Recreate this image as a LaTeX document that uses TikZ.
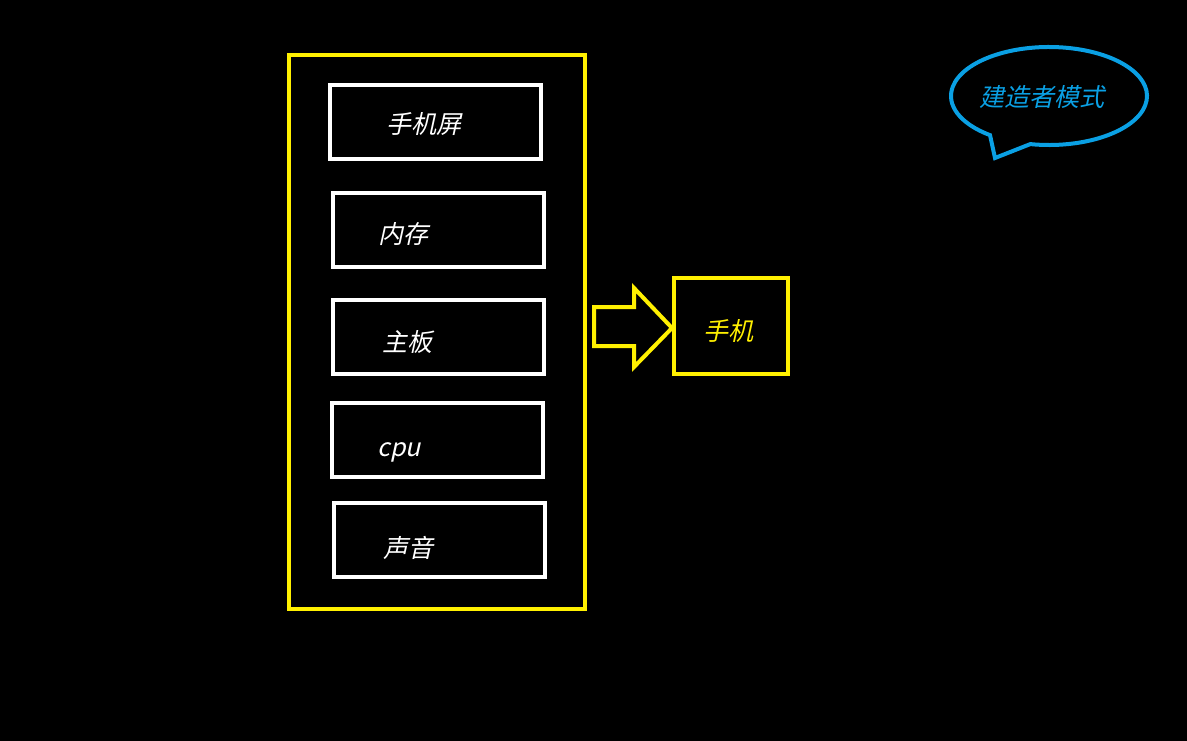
\documentclass[tikz,border=0pt]{standalone}
\usepackage{fontspec}
\usetikzlibrary{calc}
\newfontfamily\cjk[FakeSlant=0.22]{Noto Sans CJK SC}
\definecolor{yel}{RGB}{255,240,0}
\definecolor{sky}{RGB}{10,160,228}
\begin{document}
\begin{tikzpicture}[x=1pt,y=1pt,
  part/.style={draw=white,line width=4pt,minimum width=211pt,minimum height=74pt,inner sep=0pt},
  ptext/.style={text=white,font=\cjk\fontsize{25}{27}\selectfont,inner sep=0pt},
  ybox/.style={draw=yel,line width=4pt,inner sep=0pt}]
\fill[black] (0,0) rectangle (1187,-741);
\useasboundingbox (0,0) rectangle (1187,-741);
% outer container
\node[ybox,minimum width=296pt,minimum height=554pt] (outer) at (437,-332) {};
% parts
\node[part] (p1) at (435.5,-122) {};
\node[part] (p2) at (438.5,-230) {};
\node[part] (p3) at (438.5,-337) {};
\node[part] (p4) at (437.5,-440) {};
\node[part] (p5) at (439.5,-540) {};
\node[ptext] (t1) at (424,-124) {手机屏};
\node[ptext] (t2) at (403,-234) {内存};
\node[ptext] (t3) at (407,-342) {主板};
\node[ptext] (t4) at (399,-452) {cpu};
\node[ptext] (t5) at (408,-548) {声音};
% product
\node[ybox,minimum width=114pt,minimum height=96pt] (phone) at (731,-326) {};
\node[ptext,text=yel] (tp) at (728,-331) {手机};
% block arrow
\coordinate (a0) at (594,-307);
\draw[yel,line width=4pt,line join=miter]
  (a0) -- (634,-307) -- (634,-288) -- (phone.west |- 0,-328) -- (634,-367) -- (634,-346) -- (594,-346) -- cycle;
% callout
\coordinate (cc) at (1049,-96);
\draw[sky,line width=4pt,line join=miter]
  ($(cc)+(259:98 and 49)$) arc[start angle=259,end angle=593,x radius=98,y radius=49]
  -- (995,-158) -- cycle;
\node[ptext,text=sky] (tc) at (1042,-97) {建造者模式};
\end{tikzpicture}
\end{document}
